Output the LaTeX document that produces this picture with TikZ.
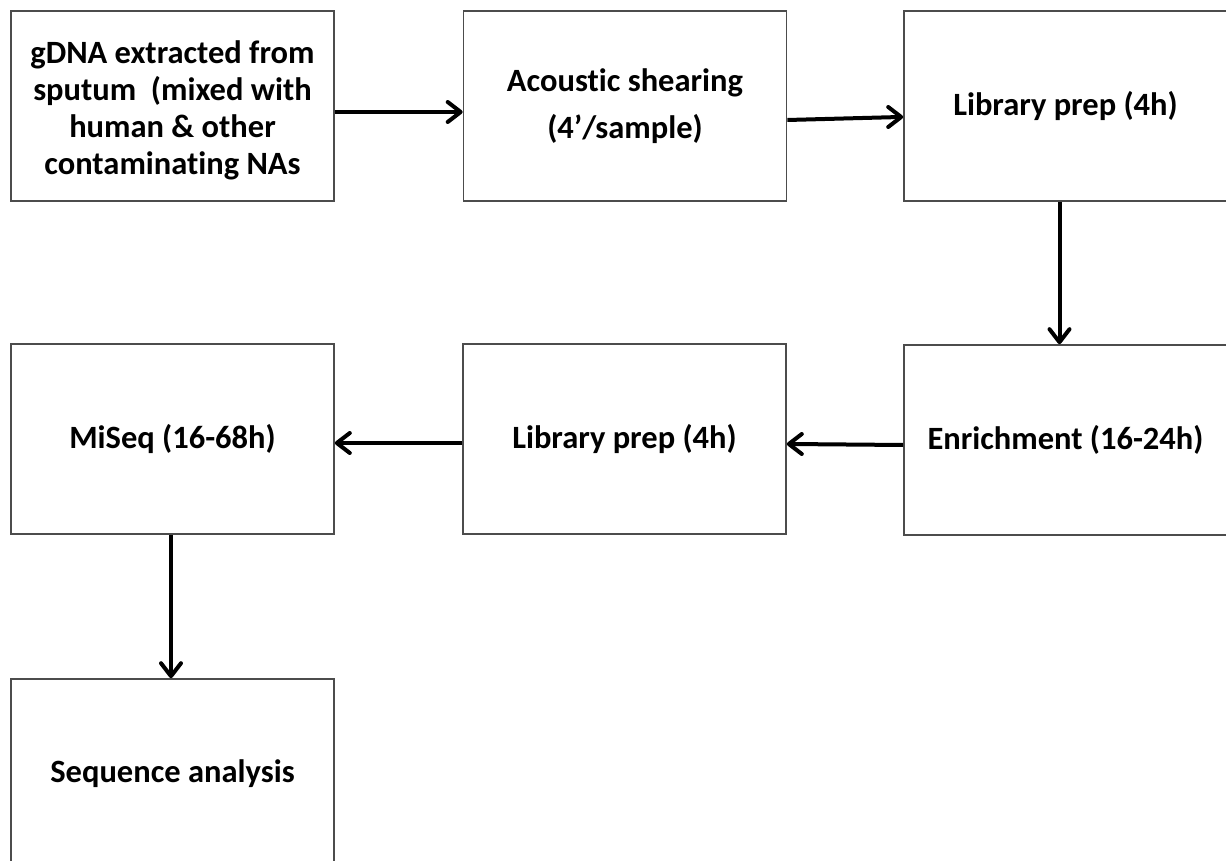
\documentclass[tikz,border=0pt]{standalone}
\usepackage{fontspec}
\setmainfont{Carlito}[Ligatures={NoCommon}]
\tikzset{
  stepbox/.style={draw=black!70, line width=1.6pt, fill=white, minimum width=323pt, minimum height=190pt, inner sep=0pt, align=center, font=\fontsize{32.5}{37}\selectfont\bfseries},
  flow/.style={line width=4pt},
  barb/.style={line width=4pt, line cap=round, line join=round}
}
\begin{document}
\begin{tikzpicture}[x=1pt,y=-1pt]
\useasboundingbox (0,0) rectangle (1226,861);
\clip (0,0) rectangle (1226,861);
\fill[white] (0,0) rectangle (1226,861);
\node[stepbox] (b1) at (172.5,106) {\parbox{320pt}{\centering\vspace*{9pt}gDNA extracted from\\sputum\ \ (mixed with\\human \& other\\contaminating NAs}};
\node[stepbox] (b2) at (625,106) {Acoustic shearing\\[10pt](4’/sample)};
\node[stepbox] (b3) at (1065.5,106) {Library prep (4h)};
\node[stepbox] (b4) at (172.5,439) {MiSeq (16-68h)};
\node[stepbox] (b5) at (624.5,439) {Library prep (4h)};
\node[stepbox] (b6) at (1065.5,440) {Enrichment (16-24h)};
\node[stepbox] (b7) at (172.5,774) {Sequence analysis};
% shafts
\draw[flow] ([yshift=-6pt]b1.east) -- ([xshift=-3pt,yshift=-6pt]b2.west);
\draw[flow] ([yshift=-14pt]b2.east) -- ([xshift=-3pt,yshift=-11pt]b3.west);
\draw[flow] ([xshift=-6pt]b3.south) -- ([xshift=-6pt,yshift=3pt]b6.north);
\draw[flow] ([yshift=-5pt]b6.west) -- ([xshift=3pt,yshift=-5pt]b5.east);
\draw[flow] ([yshift=-4pt]b5.west) -- ([xshift=3pt,yshift=-4pt]b4.east);
\draw[flow] ([xshift=-1.5pt]b4.south) -- ([xshift=-1.5pt,yshift=3pt]b7.north);
% heads
\draw[barb] ([xshift=-15pt,yshift=4pt]b2.west) -- ([xshift=-2pt,yshift=-6pt]b2.west) -- ([xshift=-15pt,yshift=-16pt]b2.west);
\draw[barb] ([xshift=-15pt,yshift=-1pt]b3.west) -- ([xshift=-2pt,yshift=-11pt]b3.west) -- ([xshift=-15pt,yshift=-21pt]b3.west);
\draw[barb] ([xshift=-16pt,yshift=15pt]b6.north) -- ([xshift=-6pt,yshift=2pt]b6.north) -- ([xshift=4pt,yshift=15pt]b6.north);
\draw[barb] ([xshift=15pt,yshift=5pt]b5.east) -- ([xshift=2pt,yshift=-5pt]b5.east) -- ([xshift=15pt,yshift=-15pt]b5.east);
\draw[barb] ([xshift=15pt,yshift=6pt]b4.east) -- ([xshift=2pt,yshift=-4pt]b4.east) -- ([xshift=15pt,yshift=-14pt]b4.east);
\draw[barb] ([xshift=-11.5pt,yshift=15pt]b7.north) -- ([xshift=-1.5pt,yshift=2pt]b7.north) -- ([xshift=8.5pt,yshift=15pt]b7.north);
\end{tikzpicture}
\end{document}
